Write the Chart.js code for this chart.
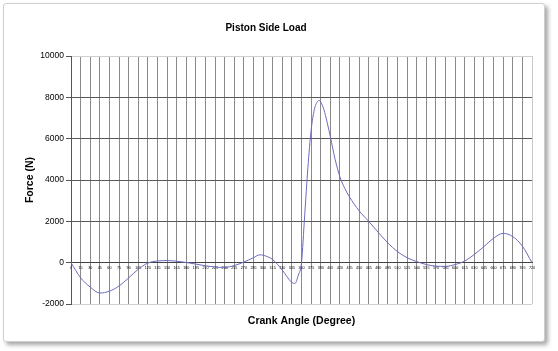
<!DOCTYPE html>
<html>
<head>
<meta charset="utf-8">
<title>Piston Side Load</title>
<script src="https://cdn.jsdelivr.net/npm/chart.js@4.4.1/dist/chart.umd.min.js"></script>
<style>
  html, body { margin: 0; padding: 0; background: #fff; }
  #frame {
    position: absolute; left: 3px; top: 3px; width: 540px; height: 337px;
    border: 1px solid #cfcfcf; border-radius: 3px;
    box-shadow: 3px 3px 4px rgba(0, 0, 0, 0.35);
    background: #fff;
  }
  #chart { position: absolute; left: 0; top: 0; }
</style>
</head>
<body>
<div id="frame"></div>
<canvas id="chart" width="558" height="351"></canvas>
<script>
// crank angle (degree) and side load (N)
const angles = [0, 15, 30, 45, 60, 75, 90, 105, 120, 135, 150, 165, 180, 195, 210, 225, 240, 255,
  270, 285, 295, 300, 315, 330, 345, 350, 355, 360, 365, 370, 375, 380, 385, 387.5, 390, 395, 400,
  405, 412.5, 420, 427.5, 435, 450, 465, 480, 495, 510, 525, 540, 555, 570, 585, 600, 615, 630,
  645, 660, 675, 690, 705, 720];
const force = [0, -730, -1180, -1470, -1380, -1130, -740, -320, -20, 80, 100, 70, 10, -70, -150, -210, -230, -140,
  30, 240, 380, 360, 150, -360, -960, -1000, -600, 0, 2300, 4600, 6400, 7400, 7800, 7850, 7780, 7400, 6800,
  6100, 5000, 4150, 3600, 3180, 2510, 2000, 1460, 950, 530, 240, 50, -90, -170, -180, -90, 80, 400,
  780, 1180, 1420, 1260, 800, 0];

const xMin = 0, xMax = 720, xStep = 15;
const yMin = -2000, yMax = 10000, yStep = 2000;

const font = 'Liberation Sans, Arial, sans-serif';

const ctx = document.getElementById('chart').getContext('2d');
new Chart(ctx, {
  type: 'line',
  data: {
    datasets: [{
      label: 'Side Load',
      data: angles.map((a, i) => ({ x: a, y: force[i] })),
      borderColor: '#6b6bbb',
      borderWidth: 1,
      pointRadius: 0,
      fill: false,
      cubicInterpolationMode: 'monotone'
    }]
  },
  options: {
    responsive: false,
    animation: false,
    layout: { padding: { left: 0, right: 26, top: 0, bottom: 0 } },
    plugins: {
      legend: { display: false },
      tooltip: { enabled: false },
      title: {
        display: true,
        text: 'Piston Side Load',
        color: '#000',
        font: { family: font, size: 10, weight: 'bold' },
        padding: { top: 22, bottom: 22 }
      }
    },
    scales: {
      x: {
        type: 'linear',
        position: { y: 0 },
        min: xMin, max: xMax,
        ticks: {
          stepSize: xStep, autoSkip: false, maxRotation: 0, minRotation: 0,
          padding: 3, color: '#000',
          font: { family: font, size: 3.7 },
          callback: v => String(v)
        },
        grid: {
          drawTicks: false,
          color: c => c.tick && c.tick.value === xMax ? '#c8c8c8' : '#8a8a8a'
        },
        border: { display: true, color: '#444', width: 1 }
      },
      xb: {
        type: 'linear',
        position: 'bottom',
        min: xMin, max: xMax,
        ticks: { display: false },
        grid: { display: false },
        border: { display: false },
        title: {
          display: true,
          text: 'Crank Angle (Degree)',
          color: '#000',
          font: { family: font, size: 10.5, weight: 'bold' },
          padding: { top: 10, bottom: 24 }
        },
        afterFit: s => { s.height = 47; }
      },
      y: {
        min: yMin, max: yMax,
        ticks: {
          stepSize: yStep, color: '#000', padding: 2,
          font: { family: font, size: 8.5 },
          callback: v => String(v)
        },
        grid: {
          tickLength: 5,
          tickColor: '#555',
          color: c => (c.tick && (c.tick.value === yMax || c.tick.value === yMin)) ? '#cfcfcf' : '#5a5a5a'
        },
        border: { display: true, color: '#555', width: 1 },
        title: {
          display: true,
          text: 'Force (N)',
          color: '#000',
          font: { family: font, size: 10.5, weight: 'bold' },
          padding: { top: 24, bottom: 0 }
        },
        afterFit: s => { s.width = 71; }
      }
    }
  }
});
</script>
</body>
</html>
